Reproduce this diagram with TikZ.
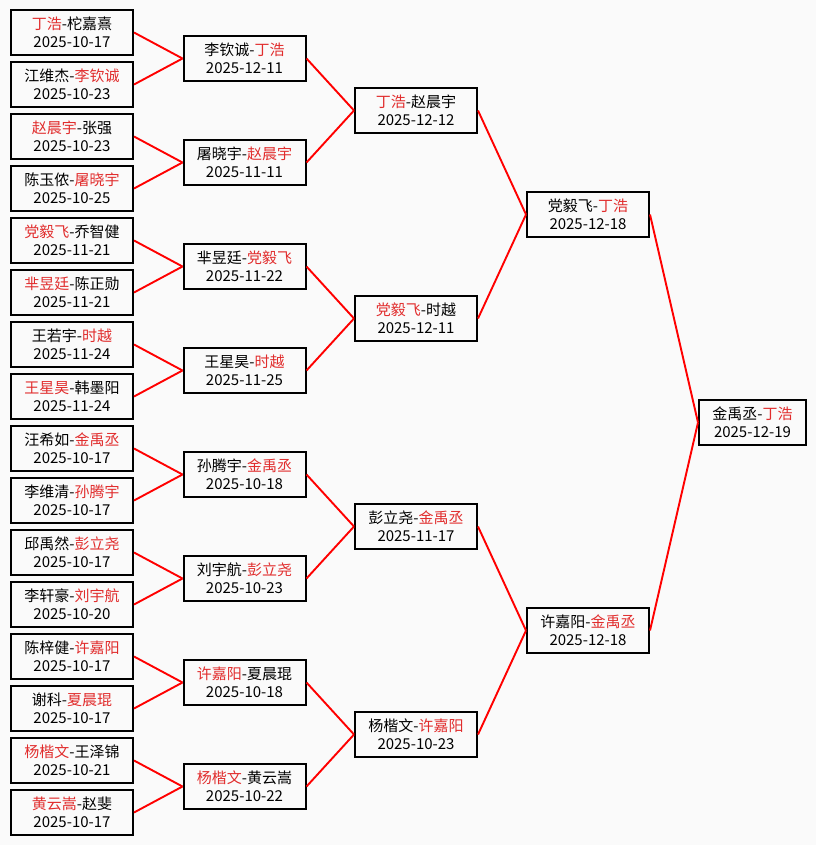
\documentclass[tikz,border=0pt]{standalone}
\usepackage{fontspec}
\setmainfont{Noto Sans CJK SC}
\definecolor{hred}{RGB}{225,45,45}
\newcommand\wn[1]{\textcolor{hred}{#1}}
\tikzset{
  bx/.style={draw, line width=2pt, minimum width=122pt, minimum height=45pt,
    inner sep=0pt, align=center, font=\fontsize{15pt}{18pt}\selectfont},
  ln/.style={red, line width=1.9pt}
}
\begin{document}
\begin{tikzpicture}[x=1pt,y=-1pt]
\fill[black!2] (0,0) rectangle (816,845);
\node[bx] (a1) at (72,32.5) {\wn{丁浩}-柁嘉熹\\2025-10-17};
\node[bx] (a2) at (72,84.5) {江维杰-\wn{李钦诚}\\2025-10-23};
\node[bx] (a3) at (72,136.5) {\wn{赵晨宇}-张强\\2025-10-23};
\node[bx] (a4) at (72,188.5) {陈玉侬-\wn{屠晓宇}\\2025-10-25};
\node[bx] (a5) at (72,240.5) {\wn{党毅飞}-乔智健\\2025-11-21};
\node[bx] (a6) at (72,292.5) {\wn{芈昱廷}-陈正勋\\2025-11-21};
\node[bx] (a7) at (72,344.5) {王若宇-\wn{时越}\\2025-11-24};
\node[bx] (a8) at (72,396.5) {\wn{王星昊}-韩墨阳\\2025-11-24};
\node[bx] (a9) at (72,448.5) {汪希如-\wn{金禹丞}\\2025-10-17};
\node[bx] (a10) at (72,500.5) {李维清-\wn{孙腾宇}\\2025-10-17};
\node[bx] (a11) at (72,552.5) {邱禹然-\wn{彭立尧}\\2025-10-17};
\node[bx] (a12) at (72,604.5) {李轩豪-\wn{刘宇航}\\2025-10-20};
\node[bx] (a13) at (72,656.5) {陈梓健-\wn{许嘉阳}\\2025-10-17};
\node[bx] (a14) at (72,708.5) {谢科-\wn{夏晨琨}\\2025-10-17};
\node[bx] (a15) at (72,760.5) {\wn{杨楷文}-王泽锦\\2025-10-21};
\node[bx] (a16) at (72,812.5) {\wn{黄云嵩}-赵斐\\2025-10-17};
\node[bx] (b1) at (244.5,58.5) {李钦诚-\wn{丁浩}\\2025-12-11};
\node[bx] (b2) at (244.5,162.5) {屠晓宇-\wn{赵晨宇}\\2025-11-11};
\node[bx] (b3) at (244.5,266.5) {芈昱廷-\wn{党毅飞}\\2025-11-22};
\node[bx] (b4) at (244.5,370.5) {王星昊-\wn{时越}\\2025-11-25};
\node[bx] (b5) at (244.5,474.5) {孙腾宇-\wn{金禹丞}\\2025-10-18};
\node[bx] (b6) at (244.5,578.5) {刘宇航-\wn{彭立尧}\\2025-10-23};
\node[bx] (b7) at (244.5,682.5) {\wn{许嘉阳}-夏晨琨\\2025-10-18};
\node[bx] (b8) at (244.5,786.5) {\wn{杨楷文}-黄云嵩\\2025-10-22};
\node[bx] (c1) at (416,110.5) {\wn{丁浩}-赵晨宇\\2025-12-12};
\node[bx] (c2) at (416,318.5) {\wn{党毅飞}-时越\\2025-12-11};
\node[bx] (c3) at (416,526.5) {彭立尧-\wn{金禹丞}\\2025-11-17};
\node[bx] (c4) at (416,734.5) {杨楷文-\wn{许嘉阳}\\2025-10-23};
\node[bx] (d1) at (588,214.5) {党毅飞-\wn{丁浩}\\2025-12-18};
\node[bx] (d2) at (588,630.5) {许嘉阳-\wn{金禹丞}\\2025-12-18};
\node[bx, minimum width=107pt] (e) at (752.5,422.5) {金禹丞-\wn{丁浩}\\2025-12-19};
\foreach \i/\j in {1/1,2/1,3/2,4/2,5/3,6/3,7/4,8/4,9/5,10/5,11/6,12/6,13/7,14/7,15/8,16/8}
  \draw[ln] (a\i.east) -- (b\j.west);
\foreach \i/\j in {1/1,2/1,3/2,4/2,5/3,6/3,7/4,8/4}
  \draw[ln] (b\i.east) -- (c\j.west);
\foreach \i/\j in {1/1,2/1,3/2,4/2}
  \draw[ln] (c\i.east) -- (d\j.west);
\draw[ln] (d1.east) -- (e.west);
\draw[ln] (d2.east) -- (e.west);
\end{tikzpicture}
\end{document}
